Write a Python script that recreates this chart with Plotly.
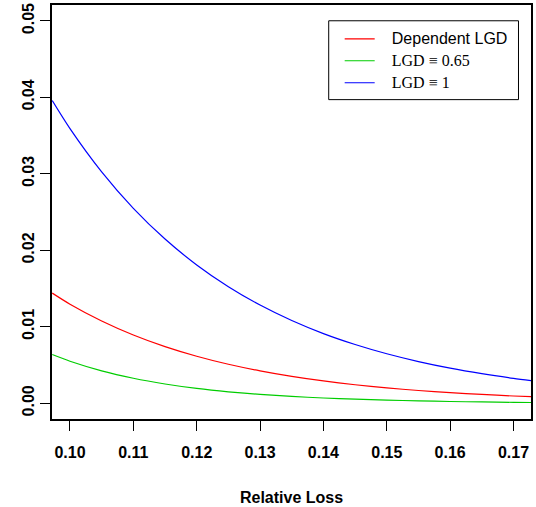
import plotly.graph_objects as go

# Data
relative_loss = [0.0972, 0.100, 0.105, 0.110, 0.115, 0.120, 0.125, 0.130, 0.135,
                 0.140, 0.145, 0.150, 0.155, 0.160, 0.165, 0.170, 0.1728]
dependent_lgd = [0.01441, 0.01296, 0.01076, 0.00893, 0.00741, 0.00615, 0.00510, 0.00424,
                 0.00352, 0.00292, 0.00242, 0.00201, 0.00167, 0.00138, 0.00115, 0.00095, 0.00086]
lgd_065 = [0.00637, 0.00550, 0.00424, 0.00327, 0.00252, 0.00194, 0.00150, 0.00116,
           0.00089, 0.00069, 0.00053, 0.00041, 0.00031, 0.00023, 0.00017, 0.00012, 0.00010]
lgd_1 = [0.0396, 0.03593, 0.03027, 0.02550, 0.02148, 0.01809, 0.01524, 0.01284,
         0.01082, 0.00911, 0.00768, 0.00647, 0.00545, 0.00459, 0.00387, 0.00326, 0.00296]

x_ticks = [0.10, 0.11, 0.12, 0.13, 0.14, 0.15, 0.16, 0.17]
y_ticks = [0.00, 0.01, 0.02, 0.03, 0.04, 0.05]

sans = "Liberation Sans, Arial, sans-serif"
pad = "\u00a0\u00a0\u2009"
serif = "font-family:'Liberation Serif', 'DejaVu Serif', serif;font-size:16px"
names = [f"<span style=\"font-size:16px\">{pad}Dependent LGD</span>",
         f"<span style=\"font-size:16px\">{pad}</span><span style=\"{serif}\">LGD ≡ 0.65</span>",
         f"<span style=\"font-size:16px\">{pad}</span><span style=\"{serif}\">LGD ≡ 1</span>"]

fig = go.Figure()
for ys, name, color in [(dependent_lgd, names[0], "#FF0000"),
                        (lgd_065, names[1], "#00CD00"),
                        (lgd_1, names[2], "#0000FF")]:
    fig.add_trace(go.Scatter(x=relative_loss, y=ys, mode="lines", name=name,
                             line=dict(color=color, width=1.2, shape="spline", smoothing=0.8)))

axis_common = dict(showgrid=False, zeroline=False, showline=True, linecolor="black",
                   linewidth=1.5, mirror=True, ticks="outside", ticklen=10, tickwidth=1,
                   tickcolor="black", tickformat=".2f",
                   tickfont=dict(family=sans, size=16, color="black", weight="bold"))

fig.update_layout(
    width=536, height=507,
    margin=dict(l=52, r=5, t=3, b=84),
    paper_bgcolor="white", plot_bgcolor="white",
    xaxis=dict(range=[0.09716, 0.17276], tickvals=x_ticks, ticklabelstandoff=8,
               title=dict(text="Relative Loss", standoff=32,
                          font=dict(family=sans, size=16, color="black", weight="bold")),
               **axis_common),
    yaxis=dict(range=[-0.00206, 0.05209], tickvals=y_ticks, tickangle=-90, **axis_common),
    legend=dict(x=0.6006, y=0.957, xanchor="left", yanchor="top",
                borderwidth=0, bgcolor="rgba(0,0,0,0)",
                font=dict(family=sans, size=14.6, color="black"),
                tracegroupgap=0),
    shapes=[dict(type="rect", xref="paper", yref="paper",
                 x0=0.5777, x1=0.9739, y0=0.7714, y1=0.9619,
                 line=dict(color="black", width=1), fillcolor="white", layer="below")],
    showlegend=True,
)

fig.write_html("out.html")
